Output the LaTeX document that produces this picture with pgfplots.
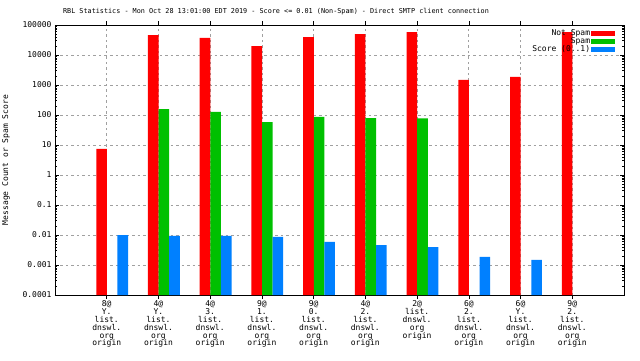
\documentclass[border=0pt]{standalone}
\usepackage{fontspec}
\setmainfont{DejaVu Sans Mono}
\usepackage{pgfplots}
\pgfplotsset{compat=1.18}
\definecolor{cred}{HTML}{FF0000}
\definecolor{cgreen}{HTML}{00C000}
\definecolor{cblue}{HTML}{0080FF}
\definecolor{cgrid}{HTML}{A0A0A0}
\begin{document}
\begin{tikzpicture}
\useasboundingbox (-55pt,-65pt) rectangle (585pt,295pt);
\begin{axis}[
 at={(0pt,0pt)}, anchor=south west,
 scale only axis, width=569pt, height=270pt,
 ymode=log, log origin=infty,
 ymin=1e-4, ymax=1e5,
 xmin=-1, xmax=10,
 ybar, bar width=0.205,
 xtick={0,...,9},
 xticklabels={{8@\\Y.\\list.\\dnswl.\\org\\origin},
  {4@\\Y.\\list.\\dnswl.\\org\\origin},
  {4@\\3.\\list.\\dnswl.\\org\\origin},
  {9@\\1.\\list.\\dnswl.\\org\\origin},
  {9@\\0.\\list.\\dnswl.\\org\\origin},
  {4@\\2.\\list.\\dnswl.\\org\\origin},
  {2@\\list.\\dnswl.\\org\\origin},
  {6@\\2.\\list.\\dnswl.\\org\\origin},
  {6@\\Y.\\list.\\dnswl.\\org\\origin},
  {9@\\2.\\list.\\dnswl.\\org\\origin}},
 xticklabel style={align=center, font=\fontsize{8}{7.8}\selectfont, yshift=1.5pt},
 ytick={1e-4,1e-3,1e-2,1e-1,1,10,100,1000,10000,100000},
 yticklabels={0.0001,0.001,0.01,0.1,1,10,100,1000,10000,100000},
 yticklabel style={font=\fontsize{8}{8}\selectfont},
 /pgf/number format/assume math mode=true,
 grid=major,
 major grid style={cgrid, line width=0.7pt, dash pattern=on 2.5pt off 3pt},
 axis line style={line width=0.8pt},
 major tick length=4pt, minor tick length=2pt,
 tick style={black, line width=0.5pt},
 legend style={draw=none, fill=none, at={(rel axis cs:0.99,0.995)}, anchor=north east,
   font=\fontsize{8}{8}\selectfont, row sep=-1.5pt, nodes={inner sep=1pt}},
 legend cell align=right,
 legend plot pos=right,
]
\addplot[fill=cred, draw=none, bar shift=-0.1,
  legend image code/.code={\fill[cred] (0pt,-2.5pt) rectangle (24pt,2.5pt);}]
 coordinates {(0,7.4) (1,46400) (2,36900) (3,19950) (4,39800) (5,50100) (6,58400) (7,1470) (8,1850) (9,58400)};
\addplot[fill=cgreen, draw=none, bar shift=0.105,
  legend image code/.code={\fill[cgreen] (0pt,-2.5pt) rectangle (24pt,2.5pt);}]
 coordinates {(1,158) (2,126) (3,58) (4,86) (5,79) (6,77)};
\addplot[fill=cblue, draw=none, bar shift=0.31,
  legend image code/.code={\fill[cblue] (0pt,-2.5pt) rectangle (24pt,2.5pt);}]
 coordinates {(0,0.0100) (1,0.00927) (2,0.0093) (3,0.0086) (4,0.00585) (5,0.00464) (6,0.00398) (7,0.00185) (8,0.00147)};
\legend{Not Spam, Spam, Score (0..1)}
\end{axis}
\node[font=\fontsize{6.8}{7}\selectfont] at (221pt,283pt) {RBL Statistics - Mon Oct 28 13:01:00 EDT 2019 - Score <= 0.01 (Non-Spam) - Direct SMTP client connection};
\node[rotate=90, font=\fontsize{8}{8}\selectfont] at (-49pt,135pt) {Message Count or Spam Score};
\end{tikzpicture}
\end{document}
